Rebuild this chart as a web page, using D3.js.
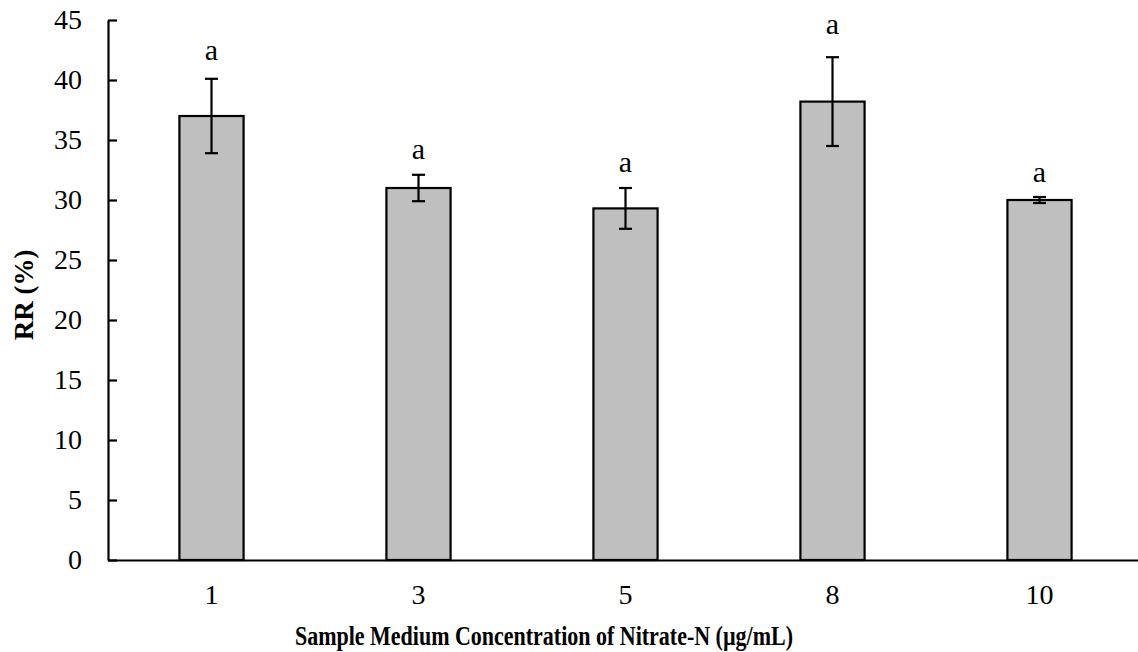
<!DOCTYPE html>
<html><head><meta charset="utf-8">
<script src="https://cdn.jsdelivr.net/npm/d3@7"></script>
<style>body{margin:0;background:#fff}svg{display:block}</style>
</head><body>
<svg id="c" width="1138" height="652"></svg>
<script>
const categories = ["1", "3", "5", "8", "10"];
const means = [37.0, 31.0, 29.3, 38.2, 30.0];
const errors = [3.1, 1.1, 1.7, 3.7, 0.25];
const letters = ["a", "a", "a", "a", "a"];
const letterHeights = [41.7, 33.4, 32.3, 43.8, 31.5];
const yTicks = [0, 5, 10, 15, 20, 25, 30, 35, 40, 45];

const svg = d3.select("#c");
const mLeft = 108, mRight = 1143, mTop = 20, mBottom = 560;
const x = d3.scaleBand().domain(categories).range([mLeft, mRight]).paddingInner(0.69).paddingOuter(0.345);
const y = d3.scaleLinear().domain([0, 45]).range([mBottom, mTop]);
const font = "'Liberation Serif','Times New Roman',Times,serif";

// bars
svg.selectAll("rect.bar").data(categories).join("rect")
  .attr("class", "bar")
  .attr("x", d => x(d)).attr("width", x.bandwidth())
  .attr("y", (d, i) => y(means[i])).attr("height", (d, i) => y(0) - y(means[i]))
  .attr("fill", "#bfbfbf").attr("stroke", "#000").attr("stroke-width", 2.2);

// error bars
const eb = svg.append("g").attr("stroke", "#000").attr("stroke-width", 2.2);
categories.forEach((c, i) => {
  const cx = x(c) + x.bandwidth() / 2;
  eb.append("line").attr("x1", cx).attr("x2", cx).attr("y1", y(means[i] + errors[i])).attr("y2", y(means[i] - errors[i]));
  eb.append("line").attr("x1", cx - 6.5).attr("x2", cx + 6.5).attr("y1", y(means[i] + errors[i])).attr("y2", y(means[i] + errors[i]));
  eb.append("line").attr("x1", cx - 6.5).attr("x2", cx + 6.5).attr("y1", y(means[i] - errors[i])).attr("y2", y(means[i] - errors[i]));
});

// letters
svg.selectAll("text.let").data(categories).join("text")
  .attr("class", "let")
  .attr("x", d => x(d) + x.bandwidth() / 2).attr("y", (d, i) => y(letterHeights[i]))
  .attr("text-anchor", "middle").style("font-family", font).style("font-size", "30px")
  .text((d, i) => letters[i]);

// y axis
const ya = svg.append("g").attr("transform", `translate(${mLeft},0)`)
  .call(d3.axisLeft(y).tickValues(yTicks).tickSizeInner(-9).tickSizeOuter(0).tickPadding(26));
ya.attr("font-family", null);
ya.select(".domain").attr("stroke-width", 2.2);
ya.selectAll(".tick line").attr("stroke-width", 2.2);
ya.selectAll("text").style("font-family", font).style("font-size", "28px").attr("fill", "#000");

// x axis
const xa = svg.append("g").attr("transform", `translate(0,${mBottom})`)
  .call(d3.axisBottom(x).tickSize(0).tickPadding(24));
xa.attr("font-family", null);
xa.select(".domain").attr("stroke-width", 2.2);
xa.selectAll("text").style("font-family", font).style("font-size", "28px").attr("fill", "#000");

// titles
svg.append("text").attr("x", 544).attr("y", 645).attr("text-anchor", "middle")
  .style("font-family", font).style("font-weight", "bold").style("font-size", "27px")
  .attr("textLength", 498).attr("lengthAdjust", "spacingAndGlyphs")
  .text("Sample Medium Concentration of Nitrate-N (µg/mL)");
svg.append("text").attr("transform", "translate(33,295) rotate(-90)").attr("text-anchor", "middle")
  .style("font-family", font).style("font-weight", "bold").style("font-size", "27px")
  .text("RR (%)");
</script>
</body></html>
